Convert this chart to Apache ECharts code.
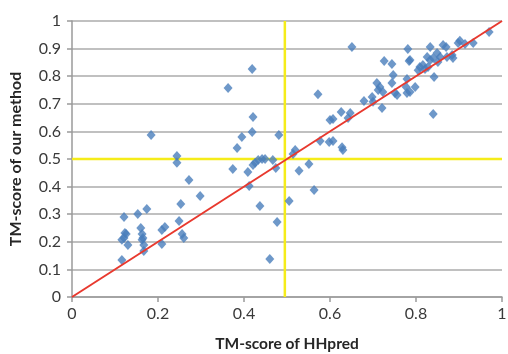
<!DOCTYPE html>
<html>
<head>
<meta charset="utf-8">
<script src="https://cdn.jsdelivr.net/npm/echarts@6/dist/echarts.min.js"></script>
<style>html,body{margin:0;padding:0;background:#fff}#c{width:508px;height:354px}</style>
</head>
<body>
<div id="c"></div>
<script>
// HHpred TM-score (x) vs our method TM-score (y)
const points = [
  [0.272,0.424],[0.298,0.366],[0.253,0.337],[0.174,0.319],[0.153,0.301],[0.121,0.290],
  [0.249,0.275],[0.160,0.250],[0.216,0.254],[0.209,0.243],[0.126,0.228],[0.121,0.214],
  [0.116,0.207],[0.163,0.228],[0.163,0.207],[0.130,0.188],[0.167,0.188],[0.256,0.228],
  [0.260,0.214],[0.209,0.192],[0.167,0.167],[0.116,0.134],[0.123,0.232],[0.165,0.214],
  [0.184,0.587],[0.244,0.511],[0.244,0.486],
  [0.419,0.826],[0.363,0.757],[0.572,0.735],[0.421,0.652],[0.419,0.598],[0.395,0.580],
  [0.481,0.587],[0.384,0.540],[0.600,0.641],[0.577,0.565],[0.598,0.562],[0.519,0.533],
  [0.514,0.518],[0.442,0.500],[0.449,0.500],[0.433,0.496],[0.467,0.496],[0.426,0.486],
  [0.421,0.478],[0.474,0.467],[0.374,0.464],[0.409,0.453],[0.528,0.457],[0.551,0.482],
  [0.412,0.402],[0.563,0.388],[0.437,0.330],[0.505,0.348],[0.477,0.272],[0.460,0.138],
  [0.630,0.533],
  [0.651,0.906],[0.781,0.899],[0.726,0.855],[0.744,0.844],[0.784,0.855],[0.747,0.804],
  [0.744,0.775],[0.709,0.775],[0.716,0.761],[0.712,0.750],[0.723,0.743],[0.751,0.739],
  [0.756,0.732],[0.777,0.761],[0.779,0.739],[0.798,0.761],[0.679,0.710],[0.698,0.725],
  [0.700,0.707],[0.721,0.685],[0.607,0.645],[0.626,0.670],[0.647,0.667],[0.642,0.649],
  [0.607,0.565],[0.628,0.543],[0.779,0.790],
  [0.970,0.960],[0.933,0.920],[0.902,0.928],[0.898,0.920],[0.914,0.917],[0.863,0.913],
  [0.870,0.906],[0.833,0.906],[0.884,0.877],[0.886,0.866],[0.872,0.870],[0.856,0.870],
  [0.849,0.884],[0.826,0.870],[0.833,0.859],[0.840,0.866],[0.851,0.851],[0.809,0.833],
  [0.816,0.841],[0.821,0.826],[0.805,0.822],[0.828,0.833],[0.786,0.859],[0.842,0.797],
  [0.786,0.743],[0.840,0.663]
];
const diagonal = [[0,0],[1,1]];
const vThreshold = [[0.495,0],[0.495,1]];
const hThreshold = [[0,0.5],[1,0.5]];
const xTicks = [0,0.2,0.4,0.6,0.8,1];
const yTicks = [0,0.1,0.2,0.3,0.4,0.5,0.6,0.7,0.8,0.9,1];

const font = 'Lato, "Open Sans", sans-serif';
const chart = echarts.init(document.getElementById('c'));
chart.setOption({
  animation:false,
  grid:{left:72,right:6,top:21,bottom:57,outerBoundsMode:'none',containLabel:false},
  xAxis:{
    type:'value',min:0,max:1,interval:0.2,
    name:'TM-score of HHpred',nameLocation:'middle',nameGap:39,
    nameTextStyle:{fontFamily:font,fontWeight:'bold',fontSize:15.5,color:'#262626'},
    axisLine:{lineStyle:{color:'#9a9a9a',width:1.5}},
    axisTick:{show:true,length:5,lineStyle:{color:'#9a9a9a',width:1.5}},
    axisLabel:{fontFamily:font,fontSize:16,color:'#3a3a3a',margin:9,
      formatter:v=>String(+v.toFixed(1))},
    splitLine:{show:false}
  },
  yAxis:{
    type:'value',min:0,max:1,interval:0.1,
    name:'TM-score of our method',nameLocation:'middle',nameGap:48,
    nameTextStyle:{fontFamily:font,fontWeight:'bold',fontSize:16,color:'#262626'},
    axisLine:{show:true,lineStyle:{color:'#9a9a9a',width:1.5}},
    axisTick:{show:true,length:5,lineStyle:{color:'#9a9a9a',width:1.5}},
    axisLabel:{fontFamily:font,fontSize:16,color:'#3a3a3a',margin:11,
      formatter:v=>String(+v.toFixed(1))},
    splitLine:{show:true,lineStyle:{color:'#ababab',width:1.5}}
  },
  series:[
    {type:'line',data:vThreshold,symbol:'none',z:1,lineStyle:{color:'#f5ec1a',width:2.5}},
    {type:'line',data:hThreshold,symbol:'none',z:1,lineStyle:{color:'#f5ec1a',width:2.5}},
    {type:'scatter',data:points,symbol:'diamond',symbolSize:[9,10],z:2,
      itemStyle:{color:'#4a7ebb'}},
    {type:'line',data:diagonal,symbol:'none',z:3,lineStyle:{color:'#e8392e',width:2}}
  ]
});
</script>
</body>
</html>
